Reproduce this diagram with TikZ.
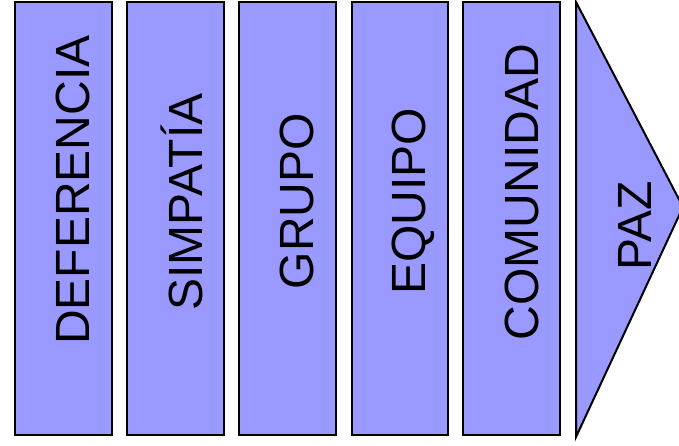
\documentclass[tikz,border=0pt]{standalone}
\usepackage{fontspec}
\setmainfont{Liberation Sans}
\definecolor{boxfill}{HTML}{9999FF}
\begin{document}
\begin{tikzpicture}[x=1pt,y=-1pt,
  stage/.style={draw=black,fill=boxfill,line width=2pt,line join=miter},
  lbl/.style={rotate=90,anchor=base,inner sep=0pt,font=\fontsize{48}{48}\selectfont}]
\useasboundingbox (0,0) rectangle (679,445);
\draw[stage] (15,2) rectangle (112,435);
\draw[stage] (127,2) rectangle (224,435);
\draw[stage] (239,2) rectangle (336,435);
\draw[stage] (352,2) rectangle (448,435);
\draw[stage] (463,2) rectangle (560,435);
\draw[stage] (576,2) -- (683,207) -- (576,437) -- cycle;
\node[lbl] (t1) at (89,190) {DEFERENCIA};
\node[lbl] (t2) at (202,202) {SIMPATÍA};
\node[lbl] (t3) at (313,201) {GRUPO};
\node[lbl] (t4) at (425,201.5) {EQUIPO};
\node[lbl] (t5) at (538,192) {COMUNIDAD};
\node[lbl] (t6) at (651,226) {PAZ};
\end{tikzpicture}
\end{document}
